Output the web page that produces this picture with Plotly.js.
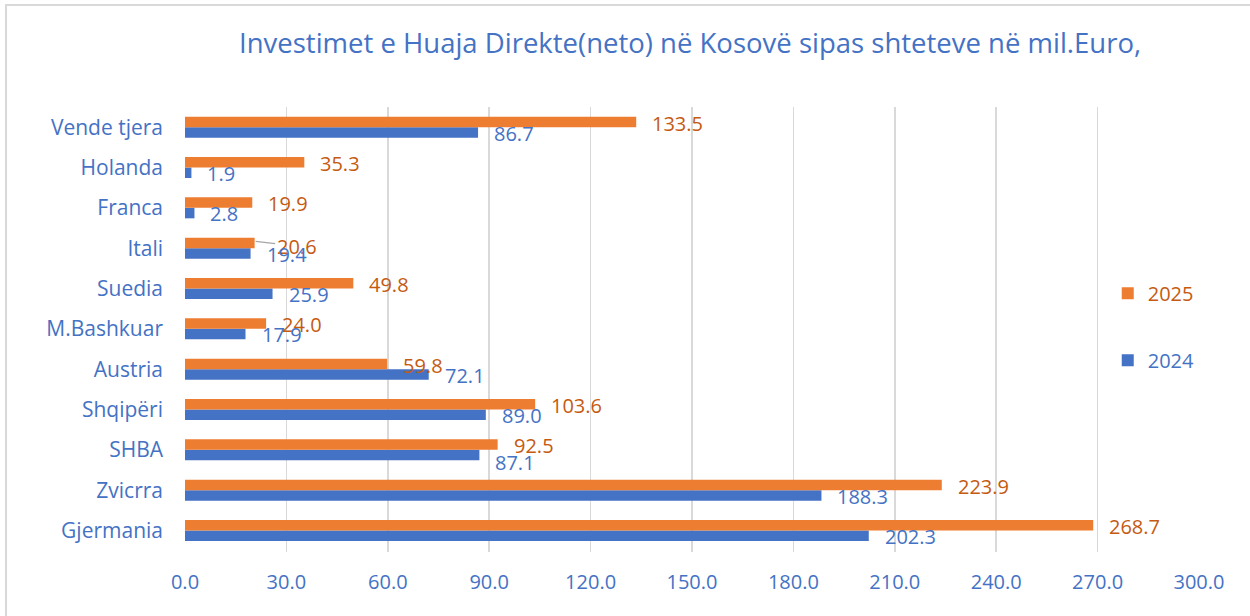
<!DOCTYPE html>
<html>
<head>
<meta charset="utf-8">
<script src="https://cdn.plot.ly/plotly-3.0.1.min.js"></script>
<style>html,body{margin:0;padding:0;background:#fff;}#chart{width:1250px;height:616px;}</style>
</head>
<body>
<div id="chart"></div>
<script>
const categories = ['Gjermania','Zvicrra','SHBA','Shqipëri','Austria','M.Bashkuar','Suedia','Itali','Franca','Holanda','Vende tjera'];
const values2024 = [202.3,188.3,87.1,89.0,72.1,17.9,25.9,19.4,2.8,1.9,86.7];
const values2025 = [268.7,223.9,92.5,103.6,59.8,24.0,49.8,20.6,19.9,35.3,133.5];
const years = ['2024','2025'];
const xTicks = [0,30,60,90,120,150,180,210,240,270,300];

const blue = '#4472C4', orange = '#ED7D31', orangeText = '#C55A11';
const FONT = 'Open Sans, sans-serif';

// manual label placement tweaks (style only), as in the original chart
const blueLabelNudgeY = {'SHBA': -7};
const leaderLabel2025 = 'Itali';

const traces = [
  {type:'bar', orientation:'h', y:categories, x:values2024, name:'<span style="color:'+blue+'">'+years[0]+'</span>',
   marker:{color:blue}, legendgroup:'a', legendrank:2, hoverinfo:'skip'},
  {type:'bar', orientation:'h', y:categories, x:values2025, name:'<span style="color:'+orangeText+'">'+years[1]+'</span>',
   marker:{color:orange}, legendgroup:'b', legendrank:1, hoverinfo:'skip'}
];

const annotations = [];
categories.forEach((c,i)=>{
  if (c === leaderLabel2025) {
    annotations.push({x:values2025[i], y:c, xref:'x', yref:'y', text:values2025[i].toFixed(1), showarrow:true,
      arrowhead:0, arrowwidth:1.2, arrowcolor:'#a6a6a6', ax:42, ay:5, standoff:1,
      yshift:7, font:{family:FONT, size:20, color:orangeText}});
  } else {
    annotations.push({x:values2025[i], y:c, xref:'x', yref:'y', text:values2025[i].toFixed(1), showarrow:false,
      xanchor:'left', yanchor:'middle', xshift:14, yshift:4, font:{family:FONT, size:20, color:orangeText}});
  }
  annotations.push({x:values2024[i], y:c, xref:'x', yref:'y', text:values2024[i].toFixed(1), showarrow:false,
    xanchor:'left', yanchor:'middle', xshift:14, yshift:-6 + (blueLabelNudgeY[c] || 0), font:{family:FONT, size:20, color:blue}});
});
annotations.push({xref:'paper', yref:'paper', x:0.498, y:1.145, text:'Investimet e Huaja Direkte(neto) në Kosovë sipas shteteve në mil.Euro,',
  showarrow:false, xanchor:'center', yanchor:'middle', font:{family:FONT, size:27.5, color:blue}});

const layout = {
  width:1250, height:616,
  margin:{l:185, r:51, t:107, b:64},
  paper_bgcolor:'#fff', plot_bgcolor:'#fff',
  barmode:'group', bargap:0.48, bargroupgap:0,
  font:{family:FONT, size:20, color:blue},
  xaxis:{range:[0,300], tickvals:xTicks, ticktext:xTicks.map(v=>v.toFixed(1)), showgrid:true, gridcolor:'#d9d9d9', gridwidth:1.5,
         zeroline:false, showline:false, ticks:'', ticklabelstandoff:16, tickfont:{family:FONT, size:20, color:blue}, fixedrange:true},
  yaxis:{type:'category', showgrid:false, zeroline:false, showline:false, ticks:'', ticklabelstandoff:21,
         tickfont:{family:FONT, size:21, color:blue}, fixedrange:true},
  showlegend:true,
  legend:{x:0.91, xanchor:'left', y:0.506, yanchor:'middle', traceorder:'grouped', tracegroupgap:38,
          bgcolor:'rgba(0,0,0,0)', font:{family:FONT, size:20, color:blue}},
  annotations:annotations,
  shapes:[{type:'rect', xref:'paper', yref:'paper', x0:-0.1765, x1:1.1, y0:-0.2, y1:1.229,
           line:{color:'#d9d9d9', width:2}, fillcolor:'rgba(0,0,0,0)', layer:'below'}],
  hovermode:false
};

Plotly.newPlot('chart', traces, layout, {staticPlot:true, displayModeBar:false});
</script>
</body>
</html>
